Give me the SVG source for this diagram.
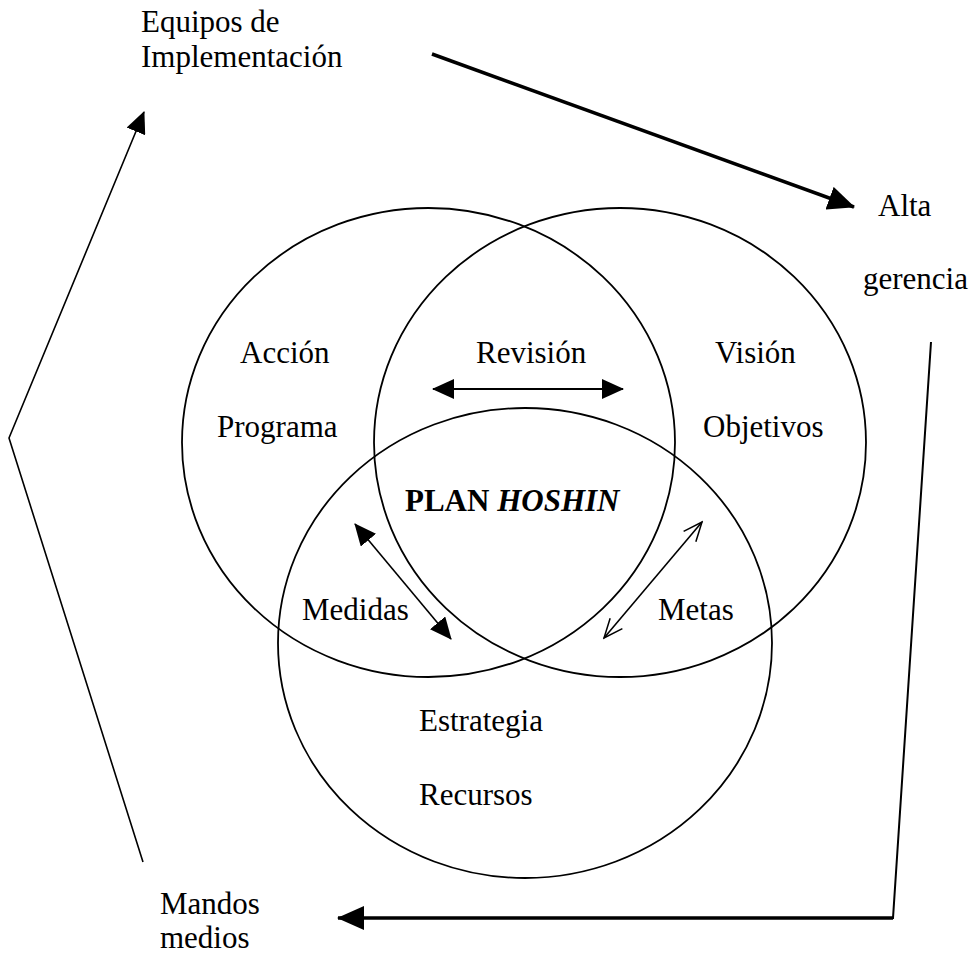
<svg xmlns="http://www.w3.org/2000/svg" width="976" height="955" viewBox="0 0 976 955">
<style>
text{font-family:"Liberation Serif","Times New Roman",serif;font-size:31px;fill:#000}
.ring{fill:none;stroke:#000;stroke-width:1.8}
.thin{fill:none;stroke:#000;stroke-width:1.6}
.thick{fill:none;stroke:#000;stroke-width:3.5}
.mid{fill:none;stroke:#000;stroke-width:2}
</style>
<defs>
<marker id="hs" markerUnits="userSpaceOnUse" markerWidth="22" markerHeight="20" refX="21" refY="10" orient="auto-start-reverse">
<path d="M0,0 L22,10 L0,20 z" fill="#000"/>
</marker>
<marker id="hb" markerUnits="userSpaceOnUse" markerWidth="27" markerHeight="24" refX="26" refY="12" orient="auto">
<path d="M0,0 L27,12 L0,24 z" fill="#000"/>
</marker>
<marker id="ho" markerUnits="userSpaceOnUse" markerWidth="22" markerHeight="18" refX="20" refY="9" orient="auto-start-reverse">
<path d="M1,1 L20,9 L1,17" fill="none" stroke="#000" stroke-width="1.5"/>
</marker>
</defs>
<g id="circles">
<ellipse id="circle-left" class="ring" cx="428.5" cy="442.5" rx="246.5" ry="234.5"/>
<ellipse id="circle-right" class="ring" cx="620" cy="442.5" rx="246" ry="234.5"/>
<ellipse id="circle-bottom" class="ring" cx="525" cy="643" rx="247" ry="235"/>
</g>
<g id="connectors">
<line class="thick" x1="432" y1="54" x2="854" y2="207" marker-end="url(#hb)"/>
<polyline class="mid" points="931,342 893,918 362,918"/>
<line class="thick" x1="893" y1="918" x2="338" y2="918" marker-end="url(#hb)"/>
<polyline class="thin" points="143,862 9,438 144,112" marker-end="url(#hs)"/>
<line class="mid" x1="433" y1="389" x2="623" y2="389" marker-start="url(#hs)" marker-end="url(#hs)"/>
<line class="thin" x1="355" y1="524" x2="451" y2="639" marker-start="url(#hs)" marker-end="url(#hs)"/>
<line class="thin" x1="702" y1="522" x2="604" y2="638" marker-start="url(#ho)" marker-end="url(#ho)"/>
</g>
<g id="node-equipos"><text x="141" y="32">Equipos de</text><text x="141" y="67">Implementación</text></g>
<g id="node-alta"><text x="878" y="216">Alta</text><text x="863" y="289">gerencia</text></g>
<g id="node-mandos"><text x="160" y="914">Mandos</text><text x="160" y="948">medios</text></g>
<g id="node-accion"><text x="240" y="363">Acción</text><text x="217" y="437">Programa</text></g>
<g id="node-vision"><text x="715" y="363">Visión</text><text x="703" y="437">Objetivos</text></g>
<g id="node-revision"><text x="476" y="363">Revisión</text></g>
<g id="node-plan"><text x="405" y="511" font-weight="bold">PLAN <tspan font-style="italic">HOSHIN</tspan></text></g>
<g id="node-medidas"><text x="302" y="620">Medidas</text></g>
<g id="node-metas"><text x="658" y="620">Metas</text></g>
<g id="node-estrategia"><text x="419" y="731">Estrategia</text><text x="419" y="805">Recursos</text></g>
</svg>
